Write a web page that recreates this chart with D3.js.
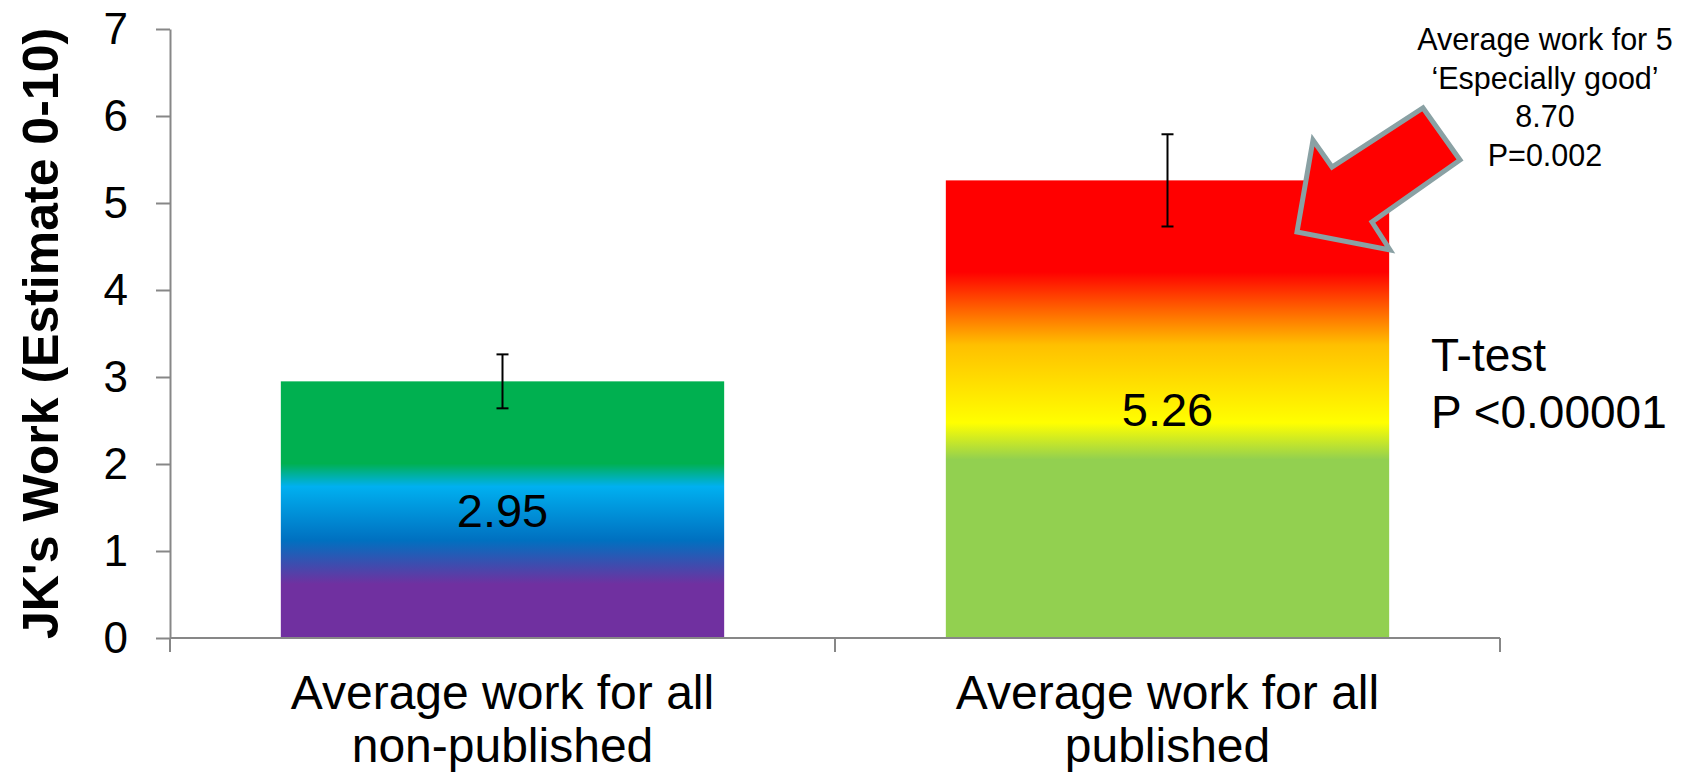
<!DOCTYPE html>
<meta charset="utf-8">
<script src="https://cdn.jsdelivr.net/npm/d3@7"></script>
<style>
  body { margin: 0; background: #fff; }
  text { font-family: "Liberation Sans", Arial, sans-serif; fill: #000; }
</style>
<svg width="1700" height="775"></svg>
<script>

    // chart data
    const categories = [["Average work for all", "non-published"], ["Average work for all", "published"]];
    const means = [2.95, 5.26];
    const errors = [0.31, 0.53];
    const yTicks = [0, 1, 2, 3, 4, 5, 6, 7];
    const yTitle = "JK's Work (Estimate 0-10)";
    const noteLines = ["Average work for 5", "\u2018Especially good\u2019", "8.70", "P=0.002"];
    const testLines = ["T-test", "P <0.00001"];

    // gradient colours, top of bar to bottom
    const gradients = [
        [[0, "#00b050"], [0.32, "#00b050"], [0.41, "#00b0f0"], [0.62, "#0070c0"], [0.79, "#7030a0"], [1, "#7030a0"]],
        [[0, "#ff0000"], [0.2, "#ff0000"], [0.36, "#ffc000"], [0.53, "#ffff00"], [0.61, "#92d050"], [1, "#92d050"]]
    ];

    const svg = d3.select("svg");
    const plotLeft = 170, plotRight = 1500, plotTop = 29, plotBottom = 638;
    const axisColor = "#878787";

    const x = d3.scaleBand()
        .domain(d3.range(means.length))
        .range([plotLeft, plotRight])
        .paddingInner(1 / 3)
        .paddingOuter(1 / 6);

    const y = d3.scaleLinear()
        .domain([0, 7])
        .range([plotBottom, plotTop]);

    const defs = svg.append("defs");
    gradients.forEach((stops, i) => {
        const lg = defs.append("linearGradient")
            .attr("id", "grad" + i)
            .attr("x1", 0).attr("y1", 0).attr("x2", 0).attr("y2", 1);
        lg.selectAll("stop")
            .data(stops)
            .enter()
            .append("stop")
            .attr("offset", d => d[0])
            .attr("stop-color", d => d[1]);
    });

    // bars
    svg.selectAll("rect.bar")
        .data(means)
        .enter()
        .append("rect")
        .attr("class", "bar")
        .attr("x", (d, i) => x(i))
        .attr("width", x.bandwidth())
        .attr("y", d => y(d))
        .attr("height", d => y(0) - y(d))
        .attr("fill", (d, i) => "url(#grad" + i + ")");

    // y axis
    const yAxis = svg.append("g")
        .attr("transform", "translate(" + plotLeft + ",0)")
        .call(d3.axisLeft(y).tickValues(yTicks).tickFormat(d3.format("d"))
            .tickSize(14).tickSizeOuter(0).tickPadding(28));
    yAxis.selectAll("path, line").attr("stroke", axisColor).attr("stroke-width", 2);
    yAxis.selectAll("text")
        .style("font-family", "'Liberation Sans', Arial, sans-serif")
        .style("font-size", "44px")
        .attr("fill", "#000");

    // x axis with ticks on the band boundaries
    const step = x.step();
    const bounds = d3.range(means.length + 1).map(i => plotLeft + i * step);
    const xAxis = svg.append("g");
    xAxis.append("line")
        .attr("x1", plotLeft).attr("x2", plotRight)
        .attr("y1", y(0)).attr("y2", y(0))
        .attr("stroke", axisColor).attr("stroke-width", 2);
    xAxis.selectAll("line.tick")
        .data(bounds)
        .enter()
        .append("line")
        .attr("class", "tick")
        .attr("x1", d => d).attr("x2", d => d)
        .attr("y1", y(0)).attr("y2", y(0) + 14)
        .attr("stroke", axisColor).attr("stroke-width", 2);

    // category labels
    svg.selectAll("text.cat")
        .data(categories)
        .enter()
        .append("text")
        .attr("class", "cat")
        .attr("text-anchor", "middle")
        .style("font-size", "48px")
        .each(function (d, i) {
            d3.select(this).selectAll("tspan")
                .data(d)
                .enter()
                .append("tspan")
                .attr("x", x(i) + x.bandwidth() / 2)
                .attr("y", (t, j) => 709 + j * 53)
                .text(t => t);
        });

    // error bars
    const err = svg.append("g").attr("stroke", "#000").attr("stroke-width", 2);
    means.forEach((m, i) => {
        const cx = x(i) + x.bandwidth() / 2;
        err.append("line")
            .attr("x1", cx).attr("x2", cx)
            .attr("y1", y(m + errors[i])).attr("y2", y(m - errors[i]));
        [m + errors[i], m - errors[i]].forEach(v => {
            err.append("line")
                .attr("x1", cx - 6).attr("x2", cx + 6)
                .attr("y1", y(v)).attr("y2", y(v));
        });
    });

    // value labels
    svg.selectAll("text.val")
        .data(means)
        .enter()
        .append("text")
        .attr("class", "val")
        .attr("text-anchor", "middle")
        .attr("x", (d, i) => x(i) + x.bandwidth() / 2)
        .attr("y", d => (y(d) + y(0)) / 2)
        .attr("dy", "0.36em")
        .style("font-size", "47px")
        .text(d => d.toFixed(2));

    // y axis title
    svg.append("text")
        .attr("transform", "translate(58," + (plotTop + plotBottom) / 2 + ") rotate(-90)")
        .attr("text-anchor", "middle")
        .style("font-size", "50px")
        .style("font-weight", "bold")
        .text(yTitle);

    // arrow pointing at the published bar
    const arrow = [[1297, 232], [1313, 140], [1332, 167], [1423, 108], [1460, 160], [1372, 222], [1390, 250]];
    svg.append("polygon")
        .attr("points", arrow.map(p => p.join(",")).join(" "))
        .attr("fill", "#ff0000")
        .attr("stroke", "#8aa1a4")
        .attr("stroke-width", 5)
        .attr("stroke-linejoin", "miter");

    // note above the arrow
    svg.append("text")
        .attr("text-anchor", "middle")
        .style("font-size", "30.5px")
        .selectAll("tspan")
        .data(noteLines)
        .enter()
        .append("tspan")
        .attr("x", 1545)
        .attr("y", (d, i) => 50 + i * 38.5)
        .text(d => d);

    // t-test result
    svg.append("text")
        .style("font-size", "46px")
        .selectAll("tspan")
        .data(testLines)
        .enter()
        .append("tspan")
        .attr("x", 1431)
        .attr("y", (d, i) => 371 + i * 57)
        .text(d => d);

</script>
